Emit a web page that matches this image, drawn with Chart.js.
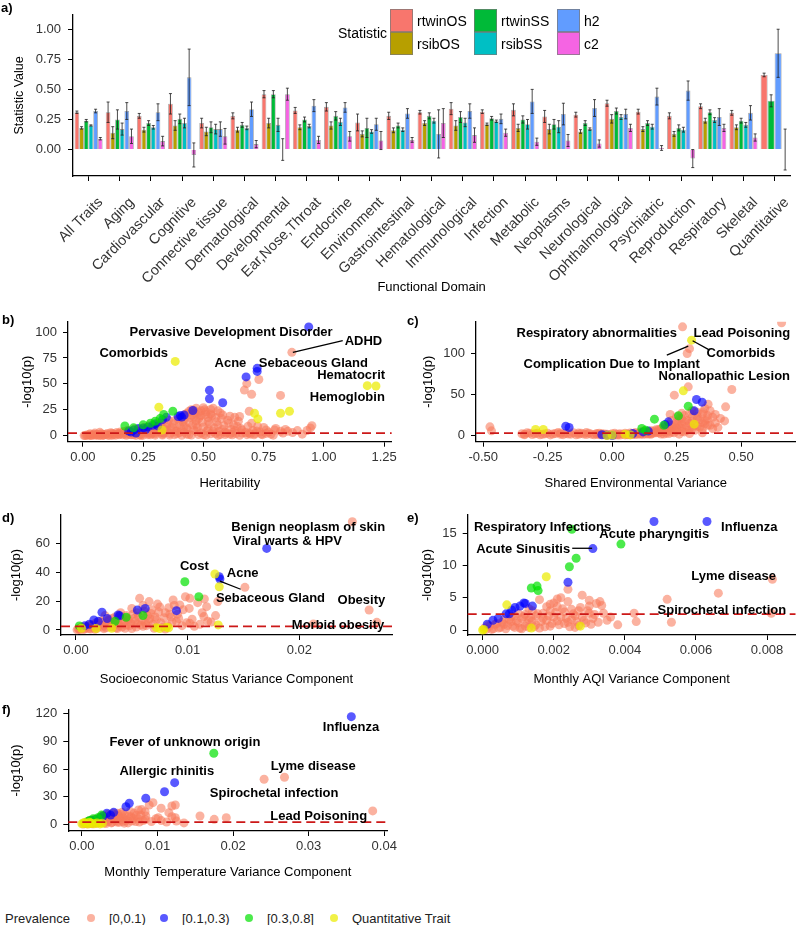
<!DOCTYPE html>
<html>
<head>
<meta charset="utf-8">
<script src="https://cdn.jsdelivr.net/npm/chart.js@4.4.1/dist/chart.umd.min.js"></script>
<style>
  body { margin:0; width:800px; height:925px; position:relative; background:#fff; overflow:hidden;
         font-family:"Liberation Sans", Arial, sans-serif; color:#000; }
  .panel { position:absolute; }
  .tag { position:absolute; font-weight:bold; font-size:13px; line-height:13px; }
  .key { position:absolute; box-sizing:border-box; border:1px solid rgba(120,120,120,0.7); }
  .ktxt { position:absolute; font-size:14px; line-height:14px; }
  .dot { position:absolute; width:8px; height:8px; border-radius:50%; }
  .ltxt { position:absolute; font-size:13px; line-height:13px; color:#222; }
</style>
</head>
<body>
<div class="panel" style="left:0;top:0;width:800px;height:300px"><canvas id="chartA"></canvas></div>
<div class="panel" style="left:0;top:300px;width:400px;height:200px"><canvas id="chartB"></canvas></div>
<div class="panel" style="left:400px;top:300px;width:400px;height:200px"><canvas id="chartC"></canvas></div>
<div class="panel" style="left:0;top:500px;width:400px;height:200px"><canvas id="chartD"></canvas></div>
<div class="panel" style="left:400px;top:500px;width:400px;height:200px"><canvas id="chartE"></canvas></div>
<div class="panel" style="left:0;top:690px;width:400px;height:200px"><canvas id="chartF"></canvas></div>

<div class="tag" style="left:1px;top:1px">a)</div>
<div class="tag" style="left:2px;top:313px">b)</div>
<div class="tag" style="left:407px;top:314px">c)</div>
<div class="tag" style="left:2px;top:511px">d)</div>
<div class="tag" style="left:407px;top:511px">e)</div>
<div class="tag" style="left:2px;top:703px">f)</div>

<div id="legendA"></div>
<div id="legendBottom"></div>

<script>
/* ---------- panel a: statistics by functional domain ---------- */
let domains = ['All Traits','Aging','Cardiovascular','Cognitive','Connective tissue','Dermatological',
  'Developmental','Ear,Nose,Throat','Endocrine','Environment','Gastrointestinal','Hematological',
  'Immunological','Infection','Metabolic','Neoplasms','Neurological','Ophthalmological','Psychiatric',
  'Reproduction','Respiratory','Skeletal','Quantitative'];

let statNames = ['rtwinOS','rsibOS','rtwinSS','rsibSS','h2','c2'];
let statColors = ['#F8766D','#B79F00','#00BA38','#00BFC4','#619CFF','#F564E3'];

let rtwinOS = [0.31,0.31,0.28,0.38,0.22,0.28,0.46,0.325,0.355,0.225,0.28,0.31,0.34,0.315,0.33,0.275,0.29,0.385,0.315,0.28,0.36,0.305,0.62];
let rtwinOSErr = [0.01,0.085,0.02,0.085,0.04,0.025,0.03,0.025,0.035,0.07,0.03,0.015,0.05,0.015,0.05,0.05,0.02,0.025,0.02,0.025,0.02,0.02,0.015];
let rsibOS = [0.18,0.14,0.165,0.20,0.15,0.165,0.22,0.185,0.20,0.13,0.16,0.22,0.20,0.21,0.18,0.17,0.15,0.255,0.17,0.13,0.24,0.185,null];
let rsibOSErr = [0.01,0.05,0.02,0.04,0.035,0.02,0.04,0.02,0.03,0.025,0.02,0.02,0.04,0.01,0.03,0.04,0.015,0.035,0.02,0.02,0.02,0.02,null];
let rtwinSS = [0.24,0.25,0.22,0.255,0.185,0.205,0.46,0.25,0.28,0.18,0.20,0.28,0.27,0.26,0.25,0.21,0.22,0.32,0.22,0.18,0.31,0.24,0.405];
let rtwinSSErr = [0.01,0.08,0.02,0.04,0.045,0.02,0.03,0.02,0.035,0.08,0.02,0.025,0.045,0.015,0.03,0.04,0.02,0.025,0.02,0.025,0.02,0.02,0.05];
let rsibSS = [0.20,0.17,0.185,0.22,0.17,0.18,0.205,0.195,0.23,0.15,0.165,0.24,0.225,0.235,0.21,0.19,0.17,0.27,0.19,0.165,0.245,0.205,null];
let rsibSSErr = [0.005,0.05,0.015,0.04,0.04,0.015,0.055,0.015,0.03,0.015,0.015,0.02,0.035,0.01,0.04,0.05,0.01,0.02,0.02,0.02,0.02,0.02,null];
let h2 = [0.32,0.32,0.31,0.60,0.17,0.335,0.0,0.365,0.35,0.21,0.30,0.13,0.32,0.255,0.40,0.295,0.345,0.295,0.44,0.49,0.27,0.305,0.80];
let h2Err = [0.015,0.07,0.07,0.235,0.06,0.06,0.09,0.05,0.04,0.05,0.04,0.2,0.06,0.04,0.10,0.09,0.07,0.04,0.07,0.08,0.07,0.06,0.2];
let c2 = [0.09,0.11,0.07,-0.045,0.11,0.045,0.46,0.08,0.11,0.075,0.08,0.22,0.12,0.14,0.065,0.075,0.05,0.18,0.013,-0.075,0.18,0.10,0.0];
let c2Err = [0.01,0.06,0.04,0.1,0.065,0.03,0.05,0.03,0.04,0.075,0.02,0.12,0.06,0.03,0.03,0.05,0.03,0.03,0.02,0.075,0.03,0.03,0.17];

let statTicks = [0, 0.25, 0.5, 0.75, 1.0];

/* ---------- panels b-f: points by prevalence group ---------- */
// b) heritability vs -log10(p)
let herSalmon = [[0.01,0.2],[0.02,0.5],[0.03,0.3],[0.03,1.8],[0.04,0.8],[0.05,0.4],[0.05,2.5],[0.06,1.2],[0.07,0.6],[0.07,3.2],
  [0.08,1.5],[0.08,0.2],[0.09,0.9],[0.10,2.0],[0.11,0.7],[0.12,2.4],[0.12,0.3],[0.13,1.1],[0.14,3.0],[0.15,0.8],[0.15,1.6],
  [0.16,2.2],[0.17,4.0],[0.18,1.4],[0.18,0.4],[0.19,3.2],[0.20,0.9],[0.21,4.5],[0.22,2.1],[0.22,0.3],[0.23,6.0],[0.24,1.5],
  [0.25,3.6],[0.25,0.5],[0.26,7.2],[0.27,2.4],[0.28,5.0],[0.28,0.8],[0.29,8.5],[0.30,1.8],[0.30,3.0],[0.31,4.4],[0.32,9.5],
  [0.33,3.0],[0.33,0.6],[0.34,6.5],[0.35,12.0],[0.35,5.0],[0.36,2.2],[0.37,8.0],[0.38,14.5],[0.38,1.0],[0.39,4.6],[0.40,10.5],
  [0.40,2.8],[0.41,17.0],[0.42,3.4],[0.42,9.0],[0.43,7.5],[0.44,13.0],[0.44,1.2],[0.45,20.0],[0.46,5.5],[0.46,24.5],[0.47,11.0],
  [0.47,4.0],[0.48,16.5],[0.49,2.5],[0.49,24.0],[0.50,8.5],[0.50,1.0],[0.51,20.5],[0.52,14.0],[0.52,6.5],[0.53,25.3],[0.54,4.0],
  [0.55,17.5],[0.55,2.0],[0.56,10.0],[0.57,22.0],[0.57,1.0],[0.58,6.0],[0.59,3.5],[0.60,15.0],[0.61,18.8],[0.61,1.5],[0.62,3.0],
  [0.63,17.8],[0.63,5.0],[0.64,9.0],[0.65,18.5],[0.66,5.5],[0.66,2.5],[0.67,44.0],[0.68,50.3],[0.68,1.0],[0.69,23.6],[0.70,39.9],
  [0.70,12.0],[0.72,4.5],[0.73,54.2],[0.74,1.5],[0.75,8.0],[0.77,3.5],[0.795,5.5],[0.82,38.9],[0.82,4.2],[0.85,4.2],[0.867,80.4],
  [0.89,4.9],[0.944,7.5],[0.95,9.7],
  [0.005,0.1],[0.015,0.6],[0.025,1.0],[0.035,0.1],[0.045,1.5],[0.055,0.8],[0.065,0.2],[0.075,1.9],[0.085,0.5],[0.095,1.2],
  [0.105,0.3],[0.115,2.8],[0.125,1.7],[0.135,0.4],[0.145,2.0],[0.155,3.5],[0.165,0.9],[0.175,2.6],[0.185,5.2],[0.195,1.1],
  [0.205,3.0],[0.215,6.4],[0.225,4.0],[0.235,1.0],[0.245,5.5],[0.255,8.0],[0.265,3.2],[0.275,9.6],[0.285,2.0],[0.295,6.8],
  [0.305,11.0],[0.315,5.5],[0.325,12.5],[0.335,2.5],[0.345,9.0],[0.355,15.0],[0.365,7.0],[0.375,11.5],[0.385,4.0],[0.395,16.0],
  [0.405,7.8],[0.415,13.5],[0.425,20.5],[0.435,5.8],[0.445,17.5],[0.455,10.5],[0.465,22.0],[0.475,8.0],[0.485,19.0],[0.495,13.0],
  [0.505,25.0],[0.515,4.5],[0.525,11.5],[0.535,19.5],[0.545,7.5],[0.555,13.5],[0.565,4.0],[0.575,16.5],[0.585,9.5],[0.595,2.5],
  [0.605,12.0],[0.615,6.0],[0.625,10.5],[0.635,2.0],[0.645,14.0],[0.655,7.0],[0.675,3.0],[0.685,9.0],[0.695,1.5],[0.705,5.0],
  [0.715,2.0],[0.725,9.0],[0.735,3.5],[0.745,1.0],[0.76,5.5],[0.78,1.5],[0.80,7.0],[0.83,2.5],[0.84,6.0],[0.87,3.0],[0.91,1.5],
  [0.93,5.0],[0.43,21.5],[0.45,25.0],[0.47,26.5],[0.48,22.5],[0.50,27.0],[0.51,23.0],[0.53,21.0],[0.54,26.5],[0.56,24.0],
  [0.58,20.0],[0.44,23.5],[0.46,18.5],[0.52,17.5],[0.49,19.5],[0.47,14.5],[0.42,15.5],[0.21,0.8],[0.24,0.2],[0.27,1.0],
  [0.30,0.5],[0.33,1.5],[0.36,0.6],[0.39,1.8],[0.41,0.4],[0.43,1.5],[0.45,0.6],[0.48,1.2],[0.51,0.5],[0.53,1.8],[0.56,0.3],
  [0.59,1.2],[0.62,0.8],[0.65,0.4],[0.69,2.5],[0.71,0.8],[0.76,2.2],[0.79,0.5]];
let herBlue = [[0.937,105],[0.723,65],[0.723,62],[0.677,56.7],[0.525,43.8],[0.525,35.6],[0.58,31.8],[0.456,24.3],[0.404,19.5],
  [0.42,20],[0.41,18],[0.395,18.5],[0.346,17.8],[0.33,15.5],[0.30,11.5],[0.29,10],[0.27,8.5],[0.25,7.5],[0.23,7],[0.21,5.5],
  [0.20,3.5],[0.19,4.5],[0.22,2.5],[0.26,6.0],[0.31,9.5]];
let herGreen = [[0.373,23.6],[0.335,20.4],[0.30,14],[0.28,12],[0.174,9.4],[0.21,7.6],[0.25,10.5],[0.32,16.5]];
let herYellow = [[0.383,71.7],[1.18,48.3],[1.216,48],[0.82,21.7],[0.857,23.6],[0.712,21.7],[0.726,16.2],[0.315,27.5],[0.328,5.5]];

// c) shared environmental variance
let envSalmon = [[0.657,137.6],[0.273,132.7],[0.291,100],[0.30,106],[0.295,59.2],[0.241,49],[0.464,56],[0.372,38],[0.359,32.7],
  [0.353,28.6],[0.44,34.7],[0.40,25.4],[0.436,17.5],[0.225,25.4],[0.38,12],[0.41,9.5],[0.35,15],[0.33,20],[0.31,22],[0.29,18],
  [0.27,14],[0.26,10],[0.25,16],[0.24,12],[0.23,8],[0.22,13],[0.21,6],[0.20,10],[0.19,4],[0.18,7],[0.17,3],[0.16,5],[0.15,2],
  [0.14,4],[0.13,1.5],[0.12,3],[0.11,1],[0.10,2.5],[0.09,0.8],[0.08,2],[0.07,0.5],[0.06,1.5],[0.05,0.3],[0.04,1.2],[0.03,0.2],
  [0.02,1],[0.01,0.3],[-0.01,0.6],[-0.02,1.2],[-0.03,0.4],[-0.04,1.8],[-0.05,0.6],[-0.06,2],[-0.08,1],[-0.09,2.4],[-0.10,0.8],
  [-0.12,2.2],[-0.13,1],[-0.15,3],[-0.16,1.2],[-0.18,2],[-0.20,1],[-0.21,3.2],[-0.23,1.5],[-0.25,2.5],[-0.27,1],[-0.30,1.8],
  [-0.32,2.5],[-0.34,1.2],[-0.35,1.8],[-0.474,10.2],[-0.468,5.3],[0.28,4],[0.30,8],[0.32,6],[0.34,10],[0.36,18],[0.37,24],
  [0.33,28],[0.31,30],[0.27,27],[0.26,20],[0.35,3],[0.24,3],[0.22,2],[0.20,1.5],[0.26,1.2],[0.30,2],
  [-0.34,0.4],[-0.33,3.0],[-0.31,0.8],[-0.29,2.2],[-0.28,0.5],[-0.26,1.6],[-0.24,0.3],[-0.22,2.0],[-0.20,2.8],[-0.19,0.6],
  [-0.17,1.5],[-0.14,0.5],[-0.13,2.6],[-0.11,1.4],[-0.10,3.2],[-0.07,0.4],[-0.06,1.0],[-0.05,2.4],[-0.03,1.5],[0.0,1.8],
  [0.01,2.2],[0.02,0.2],[0.03,1.8],[0.05,2.5],[0.06,0.5],[0.07,2.8],[0.08,0.8],[0.09,3.2],[0.10,1.2],[0.11,3.8],[0.12,1.0],
  [0.13,4.5],[0.14,1.5],[0.15,5.5],[0.16,2.5],[0.17,6.5],[0.18,3.0],[0.19,8.0],[0.20,4.5],[0.21,9.5],[0.22,5.5],[0.23,11.5],
  [0.24,7.0],[0.25,9.0],[0.26,13.5],[0.27,8.5],[0.28,16.5],[0.29,11.0],[0.30,14.5],[0.31,17.0],[0.32,12.5],[0.33,23.0],
  [0.34,19.0],[0.35,26.0],[0.36,14.0],[0.37,20.0],[0.38,30.0],[0.39,22.0],[0.40,15.0],[0.42,20.5],[0.28,24.0],[0.30,26.5],
  [0.27,20.0],[0.25,22.5],[0.23,18.0],[0.22,9.0],[0.20,7.0],[0.18,5.0],[0.16,3.5],[0.15,1.0],[0.14,2.5],[0.12,5.0],[0.11,2.0],
  [0.19,1.5],[0.21,2.5],[0.23,3.5],[0.25,5.5],[0.27,4.5],[0.29,6.0],[0.31,8.5],[0.33,11.0],[0.35,7.5],[0.37,12.0],[0.39,8.0]];
let envBlue = [[0.327,43.7],[0.349,40.4],[0.318,29.8],[0.205,13],[0.218,16.3],[-0.18,11],[-0.167,9.4],[-0.04,0.5],[-0.02,0],
  [0.0,-0.5],[0.12,4],[0.14,5],[0.08,2]];
let envGreen = [[0.295,35.5],[0.257,23.7],[0.164,19.6],[0.115,8.2],[0.13,6],[0.20,12]];
let envYellow = [[0.308,116.4],[0.276,54.3],[0.318,13.5],[-0.297,7],[-0.267,7],[-0.02,-0.5],[0.05,1.2],[0.07,0.5],[0.0,0.2]];

// d) socioeconomic status variance component
let sesSalmon = [[0.02475,75.2],[0.01513,29.6],[0.02625,13.9],[0.02694,5.3],[0.02126,4.2],[0.0102,22],[0.0098,23.1],[0.0117,16.2],
  [0.01145,9.3],[0.01014,15],[0.0093,17.4],[0.0087,20.8],[0.0057,22],[0.00655,19.7],[0.0127,19.7],[0.0102,4.6],[0.0075,16],
  [0.008,12],[0.0085,9],[0.009,6],[0.0095,3],[0.0078,2],[0.0072,7],[0.0068,14],[0.0064,10],[0.006,17],[0.0062,5],[0.0055,12],
  [0.005,15],[0.0052,8],[0.0048,3],[0.0045,10],[0.0042,6],[0.004,12],[0.0038,4],[0.0035,9],[0.0033,2],[0.003,7],[0.0028,4],
  [0.0026,10],[0.0024,2],[0.0022,6],[0.002,3],[0.0018,5],[0.0016,1.5],[0.0014,3.5],[0.0012,1],[0.001,2.5],[0.0008,0.8],
  [0.0006,1.5],[0.0004,0.3],[0.0002,0.8],[0.0001,0.1],[0.0106,2.5],[0.0118,6],[0.0125,10],[0.0113,12],[0.0109,19],[0.0091,11],
  [0.0083,15.5],[0.0073,18],[0.0066,8],[0.0058,3.5],[0.0047,7],[0.0037,1],[0.0027,1.5],[0.0017,0.5],
  [0.0003,0.6],[0.0005,2.0],[0.0007,0.4],[0.0009,1.6],[0.0011,3.0],[0.0013,0.7],[0.0015,2.6],[0.0017,4.2],[0.0019,1.2],
  [0.0021,3.4],[0.0023,5.2],[0.0025,0.9],[0.0027,4.0],[0.0029,6.5],[0.0031,2.2],[0.0032,8.0],[0.0034,4.5],[0.0036,1.5],
  [0.0037,7.0],[0.0039,3.0],[0.0041,9.0],[0.0043,5.0],[0.0044,1.2],[0.0046,8.0],[0.0049,4.5],[0.0051,11.0],[0.0053,6.0],
  [0.0054,2.0],[0.0056,9.5],[0.0059,7.0],[0.0061,13.0],[0.0063,3.0],[0.0065,6.0],[0.0067,11.5],[0.0069,4.0],[0.0071,9.0],
  [0.0074,12.5],[0.0076,5.0],[0.0079,8.5],[0.0082,3.0],[0.0084,11.0],[0.0086,5.5],[0.0088,17.0],[0.0092,8.0],[0.0096,14.0],
  [0.0099,5.0],[0.0104,7.5],[0.0111,4.0],[0.0121,5.5],[0.0115,21.6],[0.0041,2.0],[0.0033,5.5],[0.0025,3.0],[0.0019,2.4],
  [0.0013,1.8],[0.0045,3.2],[0.005,1.0],[0.0055,4.2],[0.006,2.5],[0.007,1.2],[0.008,0.6]];
let sesBlue = [[0.01708,56.7],[0.01283,37],[0.01289,35.4],[0.009,13.4],[0.00233,12.3],[0.00377,10.4],[0.0039,9.9],[0.0055,13.9],
  [0.0062,15],[0.0016,7],[0.002,6],[0.0028,8],[0.0012,4],[0.0008,3]];
let sesGreen = [[0.00975,33.5],[0.011,23.1],[0.0003,2.8],[0.0045,8.8],[0.0035,6],[0.006,10]];
let sesYellow = [[0.01244,38.9],[0.01283,30],[0.01274,3.5],[0.0081,1.9],[0.0072,1.6],[0.0075,1],[0.0083,1.5],[0.0032,1.2],
  [0.0018,1.0],[0.0005,1.2]];

// e) monthly AQI variance component
let aqiSalmon = [[0.0024,6.3],[0.00815,7.85],[0.00663,5.7],[0.00519,4.75],[0.00812,2.6],[0.00531,1.2],[0.00426,2.6],[0.00432,1.3],
  [0.0033,4.4],[0.0032,4.1],[0.003,3.7],[0.0028,5.4],[0.0027,3],[0.0026,2.2],[0.0025,3.2],[0.0024,4.4],[0.0023,2.8],[0.0022,5],
  [0.0021,3.6],[0.002,4.2],[0.002,2],[0.0019,3],[0.0018,1.5],[0.0017,2.6],[0.0016,4.7],[0.0015,2.2],[0.0015,0.8],[0.0014,3],
  [0.0013,1.6],[0.0012,2.4],[0.0012,0.6],[0.0011,1.8],[0.001,1.1],[0.0009,2.2],[0.0009,0.4],[0.0008,1.3],[0.0007,0.7],
  [0.0006,1.6],[0.0005,0.4],[0.0004,1],[0.0003,0.2],[0.0002,0.6],[0.0001,0.1],[0.0029,1.1],[0.0031,1.8],[0.0027,0.7],
  [0.0023,1],[0.0036,2],[0.0034,2.6],[0.0018,3.6],[0.0021,1.4],[0.0025,1.6],[0.0016,0.3],[0.0013,3.3],
  [0.00005,0.3],[0.00015,0.7],[0.00025,0.1],[0.00035,0.9],[0.00045,0.3],[0.00055,1.2],[0.00065,0.2],[0.00075,1.6],
  [0.00085,0.6],[0.00095,1.4],[0.00105,0.3],[0.00115,2.1],[0.00125,1.0],[0.00135,1.9],[0.00145,0.5],[0.00155,2.5],
  [0.00165,1.3],[0.00175,0.5],[0.00185,2.2],[0.00195,1.0],[0.00205,2.7],[0.00215,0.8],[0.00225,3.3],[0.00235,1.8],
  [0.00245,0.5],[0.00255,2.5],[0.00265,1.3],[0.00275,3.5],[0.00285,1.5],[0.00295,3.0],[0.00305,0.9],[0.00315,2.4],
  [0.00325,1.2],[0.00335,3.8],[0.0035,1.5],[0.0038,0.8],[0.0011,0.2],[0.0006,0.9],[0.0008,2.0],[0.0013,0.4],[0.0017,1.8],
  [0.0019,0.6],[0.0022,2.0],[0.0024,1.2],[0.0026,0.4],[0.0028,2.0],[0.0030,2.6],[0.0014,1.4],[0.0010,2.6],[0.0021,4.8],
  [0.0019,4.0],[0.0030,4.6]];
let aqiBlue = [[0.00482,16.8],[0.00631,16.8],[0.0031,12.6],[0.0024,7.4],[0.0014,3.7],[0.00116,4.2],[0.00105,3.7],[0.00091,3.5],
  [0.00082,3.1],[0.00066,2.5],[0.00044,1.8],[0.00029,1.5],[0.00013,0.9],[0.0012,4.1],[0.00075,2.5]];
let aqiGreen = [[0.00251,15.6],[0.00389,13.3],[0.00263,11.1],[0.00244,9.8],[0.00137,6.5],[0.00153,6.8],[0.00156,6.1]];
let aqiYellow = [[0.00179,8.25],[0.00068,3.9],[0.00137,0.3],[0.00275,0.6],[0.0,0],[0.00003,0.1]];

// f) monthly temperature variance component
let tmpSalmon = [[0.0268,51.1],[0.0241,48.9],[0.03847,14.5],[0.0094,23.5],[0.0089,21],[0.01236,21],[0.0119,19.9],[0.0115,12.6],
  [0.01048,17.4],[0.0119,8.3],[0.01236,7.2],[0.0101,7.2],[0.00845,9],[0.00836,13.7],[0.00748,15.5],[0.01562,9],[0.0175,5.4],
  [0.0191,7.2],[0.0069,12],[0.0065,8],[0.006,5],[0.0057,10],[0.0054,3],[0.005,7],[0.0047,12],[0.0045,4],[0.0043,9],[0.004,2],
  [0.0038,6],[0.0035,3],[0.0033,8],[0.003,1.5],[0.0028,4],[0.0025,2],[0.0022,5],[0.002,1],[0.0018,3],[0.0015,1.5],[0.0012,0.8],
  [0.001,2],[0.0007,0.5],[0.0005,1],[0.0071,3],[0.0064,14],[0.0052,11],[0.0049,2],[0.0061,1.5],[0.0074,6],[0.0081,4],[0.0078,10],
  [0.0002,0.3],[0.0004,1.5],[0.0006,2.5],[0.0008,1.0],[0.0009,3.5],[0.0011,2.0],[0.0013,4.5],[0.0014,0.5],[0.0016,3.0],
  [0.0017,5.5],[0.0019,1.5],[0.0021,4.0],[0.0023,7.0],[0.0024,2.5],[0.0026,5.5],[0.0027,9.0],[0.0029,3.5],[0.0031,6.5],
  [0.0032,0.8],[0.0034,10.5],[0.0036,4.5],[0.0037,7.5],[0.0039,1.5],[0.0041,12.0],[0.0042,5.5],[0.0044,8.5],[0.0046,2.5],
  [0.0048,10.0],[0.0051,5.0],[0.0053,13.0],[0.0055,7.0],[0.0056,1.2],[0.0058,4.0],[0.0062,9.0],[0.0066,3.5],[0.0068,6.5],
  [0.0072,9.5],[0.0076,2.5],[0.0079,16.0],[0.0084,5.0],[0.0092,3.0],[0.0098,6.0],[0.0105,4.0],[0.0112,2.5],[0.0125,3.5],
  [0.0135,1.5]];
let tmpBlue = [[0.03564,117],[0.01227,45.2],[0.01093,35.4],[0.00845,28.3],[0.00627,22.8],[0.00583,19.1],[0.0042,13],[0.0038,10],
  [0.0033,12],[0.0028,9],[0.0024,7],[0.0018,5],[0.0012,4]];
let tmpGreen = [[0.01745,77.2],[0.0026,10],[0.0021,7],[0.0015,6],[0.001,4],[0.0008,3]];
let tmpYellow = [[0.0,0.5],[0.0004,1],[0.0008,0.3],[0.0012,1.2],[0.0016,0.6],[0.002,1.5],[0.0024,0.4],[0.0027,1],[0.0003,2],[0.001,2.2]];

let groupNames = ['[0,0.1)','[0.1,0.3)','[0.3,0.8]','Quantitative Trait'];
let groupColors = ['rgba(248,122,92,0.58)','rgba(0,0,255,0.65)','rgba(0,225,0,0.7)','rgba(235,235,0,0.72)'];
let pThreshold = 2.45;

/* ---------- shared helpers ---------- */
const FONT = '"Liberation Sans", Arial, sans-serif';
Chart.defaults.font.family = FONT;
Chart.defaults.color = '#333';
Chart.defaults.animation = false;

function axisStyle(extra){
    return Object.assign({
        grid: { display: true, drawOnChartArea: false, drawTicks: true, tickLength: 5, color: '#000', lineWidth: 1, offset: false },
        border: { display: true, color: '#000', width: 1.3 }
    }, extra);
}

function useTicks(list){
    return function(scale){ scale.ticks = list.map(v => ({ value: v })); };
}

/* error bars drawn on top of the bars */
const errorBarPlugin = {
    id: 'errorBars',
    afterDatasetsDraw(chart){
        const ctx = chart.ctx;
        const y = chart.scales.y;
        ctx.save();
        ctx.strokeStyle = 'rgba(30,30,30,0.8)';
        ctx.lineWidth = 1;
        chart.data.datasets.forEach((ds, i) => {
            chart.getDatasetMeta(i).data.forEach((bar, j) => {
                const v = ds.data[j], e = ds.errors[j];
                if(v === null || e === null || isNaN(bar.x)){ return; }
                const top = y.getPixelForValue(v + e), bot = y.getPixelForValue(v - e);
                ctx.beginPath();
                ctx.moveTo(bar.x, top); ctx.lineTo(bar.x, bot);
                ctx.moveTo(bar.x - 1.5, top); ctx.lineTo(bar.x + 1.5, top);
                ctx.moveTo(bar.x - 1.5, bot); ctx.lineTo(bar.x + 1.5, bot);
                ctx.stroke();
            });
        });
        ctx.restore();
    }
};

/* dashed significance line, leader lines and the bold trait labels */
const calloutPlugin = {
    id: 'callouts',
    afterDatasetsDraw(chart, args, opts){
        const { ctx, chartArea, scales: { x, y } } = chart;
        ctx.save();
        const ty = y.getPixelForValue(opts.threshold);
        ctx.strokeStyle = '#cc1818';
        ctx.lineWidth = 1.7;
        ctx.setLineDash([9, 5]);
        ctx.beginPath(); ctx.moveTo(chartArea.left, ty); ctx.lineTo(chartArea.right, ty); ctx.stroke();
        ctx.setLineDash([]);
        ctx.strokeStyle = '#000';
        ctx.lineWidth = 1.3;
        opts.lines.forEach(l => {
            ctx.beginPath();
            ctx.moveTo(x.getPixelForValue(l[0]), y.getPixelForValue(l[1]));
            ctx.lineTo(x.getPixelForValue(l[2]), y.getPixelForValue(l[3]));
            ctx.stroke();
        });
        ctx.font = 'bold 13px ' + FONT;
        ctx.fillStyle = '#000';
        ctx.textAlign = 'center';
        ctx.textBaseline = 'middle';
        opts.labels.forEach(l => ctx.fillText(l[0], x.getPixelForValue(l[1]), y.getPixelForValue(l[2])));
        ctx.restore();
    }
};

/* ---------- panel a ---------- */
let statValues = [rtwinOS, rsibOS, rtwinSS, rsibSS, h2, c2];
let statErrors = [rtwinOSErr, rsibOSErr, rtwinSSErr, rsibSSErr, h2Err, c2Err];

new Chart(document.getElementById('chartA'), {
    type: 'bar',
    data: {
        labels: domains,
        datasets: statNames.map((name, i) => ({
            label: name,
            data: statValues[i],
            errors: statErrors[i],
            backgroundColor: statColors[i],
            borderColor: 'rgba(90,90,90,0.55)',
            borderWidth: 0.8,
            skipNull: true,
            categoryPercentage: 0.9,
            barPercentage: 1.0
        }))
    },
    options: {
        responsive: true,
        maintainAspectRatio: false,
        layout: { padding: { top: 5, right: 3, bottom: 0, left: 0 } },
        plugins: { legend: { display: false }, tooltip: { enabled: false } },
        scales: {
            x: axisStyle({
                afterFit(s){ s.height = 124; },
                ticks: { autoSkip: false, minRotation: 45, maxRotation: 45, padding: 13, labelOffset: 12,
                         color: '#333', font: { size: 14.5 } },
                title: { display: true, text: 'Functional Domain', color: '#000', font: { size: 13 }, padding: { top: 0, bottom: 4.5 } }
            }),
            y: axisStyle({
                min: -0.22, max: 1.12,
                afterFit(s){ s.width = 73; },
                afterBuildTicks: useTicks(statTicks),
                ticks: { padding: 7, color: '#333', font: { size: 13 }, callback: v => v.toFixed(2) },
                title: { display: true, text: 'Statistic Value', color: '#000', font: { size: 12.5 }, padding: { top: 12, bottom: 0 } }
            })
        }
    },
    plugins: [errorBarPlugin]
});

/* legend of panel a, two rows by three columns */
let legendA = '<div class="ktxt" style="left:338px;top:26px">Statistic</div>';
let keyLefts = [390, 474, 557];
statNames.forEach((name, i) => {
    let col = Math.floor(i / 2), row = i % 2;
    let left = keyLefts[col], top = 9 + row * 23;
    legendA += `<div class="key" style="left:${left}px;top:${top}px;width:23px;height:23px;background:${statColors[i]}"></div>`;
    legendA += `<div class="ktxt" style="left:${left + 27}px;top:${top + 5}px">${name}</div>`;
});
document.getElementById('legendA').innerHTML = legendA;

/* ---------- panels b-f ---------- */
function makeScatter(id, groups, p){
    return new Chart(document.getElementById(id), {
        type: 'scatter',
        data: {
            datasets: groups.map((pts, i) => ({
                label: groupNames[i],
                data: pts.map(q => ({ x: q[0], y: q[1] })),
                backgroundColor: groupColors[i],
                borderWidth: 0,
                pointRadius: 4.5,
                pointHoverRadius: 4.5,
                order: [4, 3, 2, 1][i]
            }))
        },
        options: {
            responsive: true,
            maintainAspectRatio: false,
            layout: { padding: { top: p.top, right: 400 - p.right, bottom: 0, left: 0 } },
            plugins: {
                legend: { display: false },
                tooltip: { enabled: false },
                callouts: { threshold: pThreshold, labels: p.labels, lines: p.lines }
            },
            scales: {
                x: axisStyle({
                    type: 'linear', min: p.xMin, max: p.xMax,
                    afterFit(s){ s.height = 200 - p.bottom; },
                    afterBuildTicks: useTicks(p.xTicks),
                    ticks: { padding: 3, color: '#333', font: { size: 13 }, callback: v => v.toFixed(p.xDec) },
                    title: { display: true, text: p.xTitle, color: '#000', font: { size: 13 }, padding: { top: 0, bottom: p.xTitlePad } }
                }),
                y: axisStyle({
                    type: 'linear', min: p.yMin, max: p.yMax,
                    afterFit(s){ s.width = p.left; },
                    afterBuildTicks: useTicks(p.yTicks),
                    ticks: { padding: 6, color: '#333', font: { size: 13 }, callback: v => v.toFixed(0) },
                    title: { display: true, text: '-log10(p)', color: '#000', font: { size: 13 }, padding: { top: p.yTitlePad, bottom: 0 } }
                })
            }
        },
        plugins: [calloutPlugin]
    });
}

makeScatter('chartB', [herSalmon, herBlue, herGreen, herYellow], {
    left: 68, right: 392, top: 21.7, bottom: 141.7,
    xMin: -0.062, xMax: 1.281, yMin: -5.8, yMax: 110,
    xTicks: [0, 0.25, 0.5, 0.75, 1.0, 1.25], yTicks: [0, 25, 50, 75, 100], xDec: 2,
    xTitle: 'Heritability', xTitlePad: 9, yTitlePad: 19.5,
    labels: [['Pervasive Development Disorder', 0.615, 99.9], ['ADHD', 1.164, 91.1], ['Comorbids', 0.211, 79.5],
             ['Acne', 0.612, 69.7], ['Sebaceous Gland', 0.956, 69.7], ['Hematocrit', 1.113, 58], ['Hemoglobin', 1.097, 36.7]],
    lines: [[0.871, 80.4, 1.078, 91.7]]
});

makeScatter('chartC', [envSalmon, envBlue, envGreen, envYellow], {
    left: 76, right: 398, top: 21.7, bottom: 141.7,
    xMin: -0.528, xMax: 0.711, yMin: -8, yMax: 139,
    xTicks: [-0.5, -0.25, 0, 0.25, 0.5], yTicks: [0, 50, 100], xDec: 2,
    xTitle: 'Shared Environmental Variance', xTitlePad: 9, yTitlePad: 20.5,
    labels: [['Respiratory abnormalities', -0.06, 124.6], ['Lead Poisoning', 0.503, 124.6], ['Comorbids', 0.499, 100],
             ['Complication Due to Implant', -0.002, 86.6], ['Nonallopathic Lesion', 0.435, 71.5]],
    lines: [[0.312, 115.6, 0.378, 104.2], [0.212, 98, 0.295, 109]]
});

makeScatter('chartD', [sesSalmon, sesBlue, sesGreen, sesYellow], {
    left: 61, right: 392, top: 15, bottom: 135,
    xMin: -0.00134, xMax: 0.0283, yMin: -3.5, yMax: 79.9,
    xTicks: [0, 0.01, 0.02], yTicks: [0, 20, 40, 60], xDec: 2,
    xTitle: 'Socioeconomic Status Variance Component', xTitlePad: 13, yTitlePad: 9,
    labels: [['Benign neoplasm of skin', 0.0208, 71.3], ['Viral warts & HPV', 0.01894, 61.3], ['Cost', 0.0106, 44],
             ['Acne', 0.01493, 39.4], ['Sebaceous Gland', 0.01742, 22], ['Obesity', 0.02556, 20.8], ['Morbid obesity', 0.02347, 3]],
    lines: [[0.01289, 34, 0.01475, 28.3]]
});

makeScatter('chartE', [aqiSalmon, aqiBlue, aqiGreen, aqiYellow], {
    left: 67.7, right: 398, top: 15, bottom: 135,
    xMin: -0.00042, xMax: 0.0088, yMin: -0.77, yMax: 17.8,
    xTicks: [0, 0.002, 0.004, 0.006, 0.008], yTicks: [0, 5, 10, 15], xDec: 3,
    xTitle: 'Monthly AQI Variance Component', xTitlePad: 13, yTitlePad: 19.7,
    labels: [['Respiratory Infections', 0.001685, 15.9], ['Acute pharyngitis', 0.004827, 14.8], ['Influenza', 0.0075, 15.9],
             ['Acute Sinusitis', 0.00114, 12.5], ['Lyme disease', 0.00706, 8.36], ['Spirochetal infection', 0.00673, 3.0]],
    lines: [[0.00252, 12.65, 0.00308, 12.65]]
});

makeScatter('chartF', [tmpSalmon, tmpBlue, tmpGreen, tmpYellow], {
    left: 68.3, right: 392, top: 20, bottom: 141,
    xMin: -0.0018, xMax: 0.0404, yMin: -7.3, yMax: 124.2,
    xTicks: [0, 0.01, 0.02, 0.03, 0.04], yTicks: [0, 30, 60, 90, 120], xDec: 2,
    xTitle: 'Monthly Temperature Variance Component', xTitlePad: 9.5, yTitlePad: 8.5,
    labels: [['Influenza', 0.0356, 105], ['Fever of unknown origin', 0.01362, 88.7], ['Allergic rhinitis', 0.01123, 57.2],
             ['Lyme disease', 0.0306, 62.6], ['Spirochetal infection', 0.02543, 33.7], ['Lead Poisoning', 0.03133, 9]],
    lines: []
});

/* shared legend at the bottom */
let legendHTML = '<div class="ltxt" style="left:5px;top:912px">Prevalence</div>';
let dotCenters = [91, 164, 249, 334];
groupNames.forEach((name, i) => {
    legendHTML += `<div class="dot" style="left:${dotCenters[i] - 4}px;top:914px;background:${groupColors[i]}"></div>`;
    legendHTML += `<div class="ltxt" style="left:${dotCenters[i] + 18}px;top:912px">${name}</div>`;
});
document.getElementById('legendBottom').innerHTML = legendHTML;
</script>
</body>
</html>
